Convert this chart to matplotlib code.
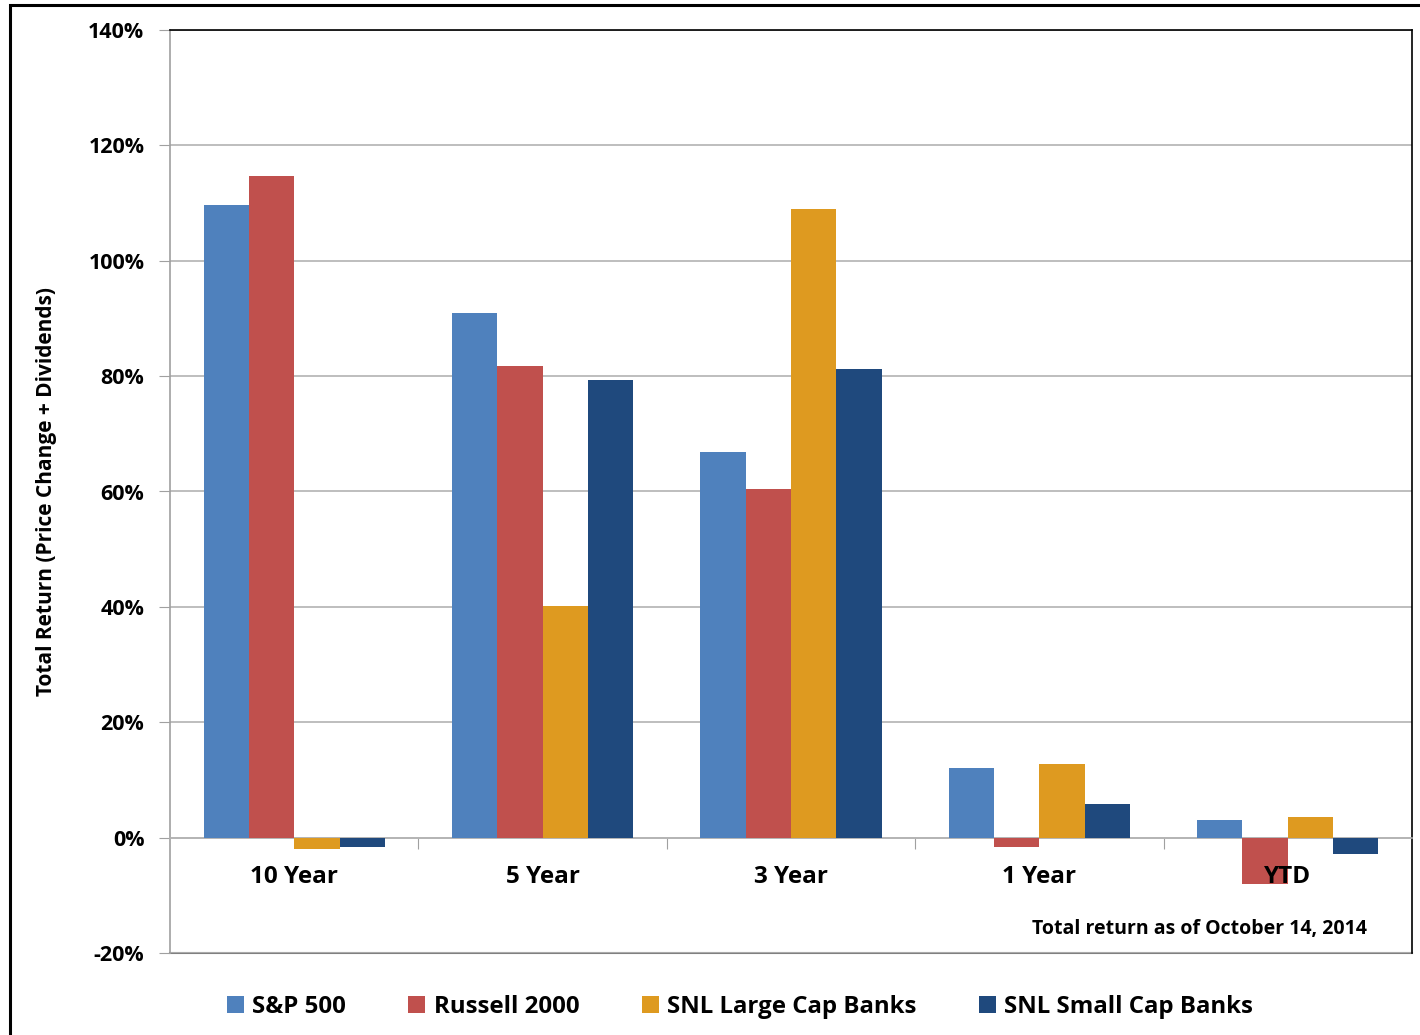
import numpy as np
import matplotlib
matplotlib.use("Agg")
import matplotlib.pyplot as plt
import matplotlib.patches as patches
import matplotlib.transforms as mtransforms

plt.rcParams['font.family'] = ['Open Sans', 'DejaVu Sans']
plt.rcParams['font.weight'] = 'bold'

categories = ['10 Year', '5 Year', '3 Year', '1 Year', 'YTD']
series_names = ['S&P 500', 'Russell 2000', 'SNL Large Cap Banks', 'SNL Small Cap Banks']
sp500 = [109.6, 90.9, 66.8, 12.0, 3.1]
russell = [114.7, 81.7, 60.5, -1.6, -8.0]
snl_large = [-1.9, 40.1, 109.0, 12.7, 3.5]
snl_small = [-1.7, 79.3, 81.2, 5.9, -2.8]
colors = ['#4F81BD', '#C0504D', '#DE9A20', '#1F497D']
y_ticks = [-20, 0, 20, 40, 60, 80, 100, 120, 140]

fig = plt.figure(figsize=(14.2, 10.35), dpi=100)
ax = fig.add_axes([170 / 1420, 1 - 953 / 1035, 1242 / 1420, 923 / 1035])

x = np.arange(len(categories))
width = 0.1825
all_series = [sp500, russell, snl_large, snl_small]
for i, (vals, name, c) in enumerate(zip(all_series, series_names, colors)):
    ax.bar(x + (i - 1.5) * width, vals, width, color=c, label=name, zorder=3)

ax.set_xlim(-0.5, len(categories) - 0.5)
ax.set_ylim(-20, 140)
ax.set_yticks(y_ticks)
ax.set_yticklabels([f'{t}%' for t in y_ticks], fontsize=15.5, fontweight='bold')
ax.yaxis.grid(True, color='#b3b3b3', linewidth=1.2, zorder=0)
ax.tick_params(axis='y', direction='out', length=8, color='#a0a0a0', pad=10.5)

# category separators hanging from the zero line
ax.spines['bottom'].set_position(('data', 0))
ax.spines['bottom'].set_color('#b3b3b3')
ax.spines['bottom'].set_linewidth(1.2)
ax.set_xticks(np.arange(len(categories) - 1) + 0.5)
ax.set_xticklabels([])
ax.tick_params(axis='x', direction='out', length=8, color='#a0a0a0')
ax.spines['left'].set_color('#a0a0a0')
ax.spines['left'].set_linewidth(1.2)
for s in ['top', 'right']:
    ax.spines[s].set_color('black')
    ax.spines[s].set_linewidth(1.2)

# bottom frame at -20%
ax.axhline(-20, color='#808080', linewidth=1.5, zorder=1, clip_on=False)

trans = mtransforms.blended_transform_factory(ax.transData, ax.transData)
for xi, cat in zip(x, categories):
    ax.text(xi, -6.9, cat, ha='center', va='center', fontsize=17.5, fontweight='bold',
            transform=trans, zorder=4)

ax.text(0.964, 0.026, 'Total return as of October 14, 2014', transform=ax.transAxes,
        ha='right', va='center', fontsize=14, fontweight='bold')

ax.set_ylabel('Total Return (Price Change + Dividends)', fontsize=15, fontweight='bold')
ax.yaxis.set_label_coords(-0.091, 0.5)

leg = fig.legend(loc='center', bbox_to_anchor=(0.521, 1 - 1007 / 1035), ncol=4, frameon=False,
                 handlelength=0.7, handleheight=0.7, handletextpad=0.35,
                 columnspacing=2.6, prop={'weight': 'bold', 'size': 17.3})

# outer border
fig.patches.append(patches.Rectangle((10 / 1420, -0.1), 1.2, 1.1 - 5 / 1035,
                                     transform=fig.transFigure, fill=False,
                                     edgecolor='black', linewidth=2.2, clip_on=False))

fig.savefig('out.png', dpi=100)
